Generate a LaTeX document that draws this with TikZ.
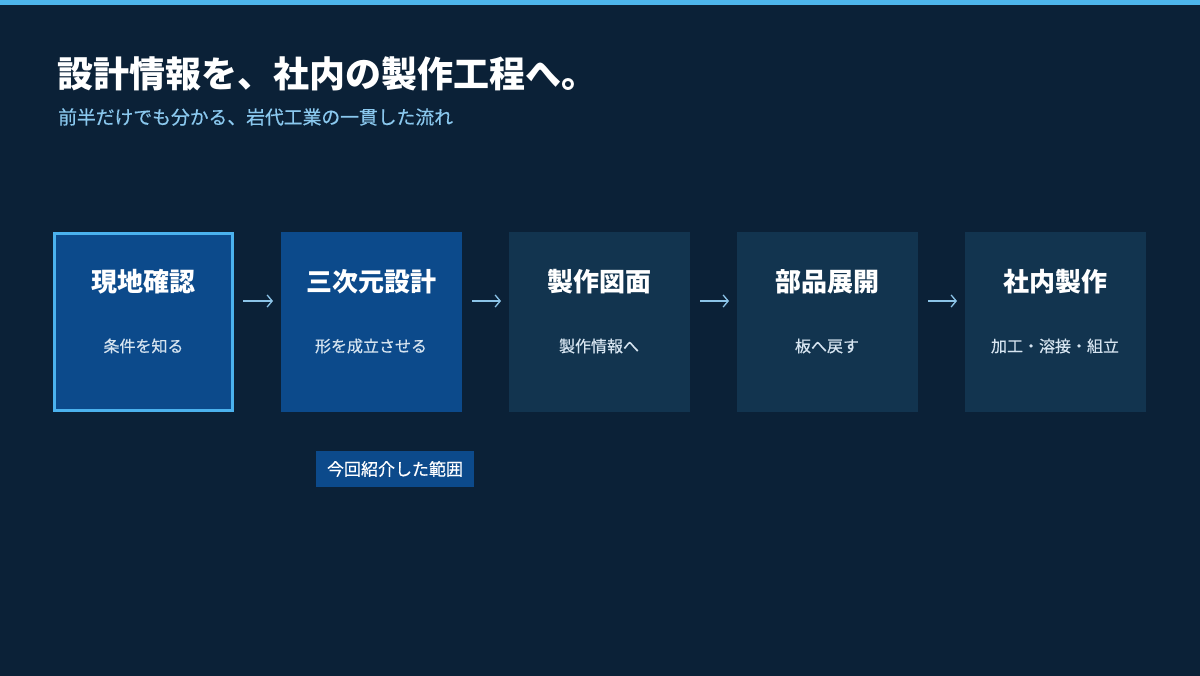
\documentclass[tikz,border=0pt]{standalone}
\usepackage{fontspec}
\setmainfont{Noto Sans CJK JP}
\newfontfamily\midfont[FakeBold=0.5]{Noto Sans CJK JP}
\usetikzlibrary{positioning}
\usetikzlibrary{arrows.meta}

\definecolor{bgnavy}{HTML}{0B2137}
\definecolor{topbar}{HTML}{4DB5EC}
\definecolor{donefill}{HTML}{0C4A8B}
\definecolor{edgeblue}{HTML}{4BB2EE}
\definecolor{stagefill}{HTML}{12344F}
\definecolor{arrowblue}{HTML}{8CC4E8}
\definecolor{subblue}{HTML}{8AC8EE}
\definecolor{notetext}{HTML}{D6E4F0}

\begin{document}
\begin{tikzpicture}[x=1pt,y=-1pt,
stage/.style={minimum width=181pt,minimum height=180pt,inner sep=0,outer sep=0,fill=stagefill},
done stage/.style={stage,fill=donefill},
stage title/.style={font=\bfseries\fontsize{26}{30}\selectfont,text=white,inner sep=0},
stage note/.style={font=\midfont\fontsize{16}{19}\selectfont,text=notetext,inner sep=0},
flow/.style={draw=arrowblue,line width=1.3pt,-{Straight Barb[length=5pt,width=12pt]},
             shorten <=10.5pt,shorten >=7.5pt},
range tag/.style={fill=donefill,text=white,font=\midfont\fontsize{17}{20}\selectfont,
                  minimum width=158pt,minimum height=36pt,inner sep=0}]
\useasboundingbox (0,0) rectangle (1200,676);
\fill[bgnavy] (0,0) rectangle (1200,676);
\fill[topbar] (0,0) rectangle (1200,5);
%==================
\node[anchor=west,inner sep=0,text=white,font=\bfseries\fontsize{36}{42}\selectfont] (head) at (57,74) {設計情報を、社内の製作工程へ。};
\node[anchor=west,inner sep=0,text=subblue,font=\midfont\fontsize{18.8}{22}\selectfont] (subhead) at (58,117) {前半だけでも分かる、岩代工業の一貫した流れ};
%==================
\node[done stage,draw=edgeblue,line width=3pt,minimum width=178pt,minimum height=177pt] (b1) at (143.5,322) {};
\node[done stage,right=48pt of b1] (b2) {};
\node[stage,right=47pt of b2] (b3) {};
\node[stage,right=47pt of b3] (b4) {};
\node[stage,right=47pt of b4] (b5) {};
% ===================
\foreach \i/\t/\s in {1/現地確認/条件を知る,2/三次元設計/形を成立させる,3/製作図面/製作情報へ,4/部品展開/板へ戻す,5/社内製作/加工・溶接・組立}{
\node[stage title] (t\i) at ([yshift=40pt]b\i.center) {\t};
\node[stage note] (s\i) at ([yshift=-24pt]b\i.center) {\s};
}
% ===================
\foreach \i/\j in {1/2,2/3,3/4,4/5}{
\draw[flow] (b\i.east |- 0,301) -- (b\j.west |- 0,301);
}
% ===================
\node[range tag] (scope) at (395,469) {今回紹介した範囲};
\end{tikzpicture}
\end{document}
